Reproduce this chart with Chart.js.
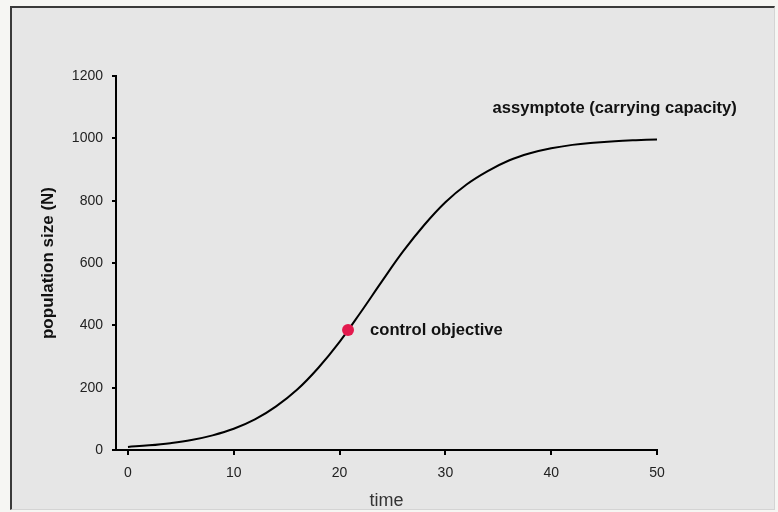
<!DOCTYPE html>
<html>
<head>
<meta charset="utf-8">
<script src="https://cdn.jsdelivr.net/npm/chart.js@4.4.1/dist/chart.umd.min.js"></script>
<style>
  html, body { margin: 0; padding: 0; background: #f6f6f3; }
  #wrap { position: relative; width: 778px; height: 512px; overflow: hidden; }
  #frame {
    position: absolute; left: 10px; top: 6px; width: 762px; height: 501px;
    background: #e6e6e6;
    border-left: 2px solid #3a3a3a; border-top: 2px solid #3a3a3a;
    border-right: 1px solid #d4d4d4; border-bottom: 1px solid #d4d4d4;
  }
  #growth { position: absolute; left: 0; top: 0; }
</style>
</head>
<body>
<div id="wrap">
  <div id="frame"></div>
  <canvas id="growth" width="778" height="512"></canvas>
</div>
<script>
// logistic growth, sampled every 2 time units
const times = [0, 2, 4, 6, 8, 10, 12, 14, 16, 18, 20, 22, 24, 26, 28, 30, 32, 34, 36, 38, 40, 42, 44, 46, 48, 50];
const population = [10, 15, 22, 32, 47, 68, 98, 140, 194, 264, 347, 442, 541, 637, 722, 795, 852, 895, 929, 952, 968, 979, 986, 991, 994, 996];

const objectiveTime = 20.8;
const objectivePop = 385;

const xTicks = [0, 10, 20, 30, 40, 50];
const yTicks = [0, 200, 400, 600, 800, 1000, 1200];

const asymptoteLabel = 'assymptote (carrying capacity)';
const objectiveLabel = 'control objective';

const curve = times.map((t, i) => ({ x: t, y: population[i] }));

const FONT = '"Liberation Sans", Arial, sans-serif';

// free text next to the curve
const notes = {
  id: 'notes',
  afterDatasetsDraw(chart) {
    const { ctx, scales: { x, y } } = chart;
    ctx.save();
    ctx.fillStyle = '#111';
    ctx.font = 'bold 16.6px ' + FONT;
    ctx.textAlign = 'left';
    ctx.textBaseline = 'alphabetic';
    ctx.fillText(asymptoteLabel, x.getPixelForValue(34.45), y.getPixelForValue(1080));
    ctx.fillText(objectiveLabel, x.getPixelForValue(objectiveTime) + 22, y.getPixelForValue(objectivePop) + 5);
    ctx.restore();
  }
};

new Chart(document.getElementById('growth'), {
  type: 'scatter',
  data: {
    datasets: [
      {
        data: curve,
        showLine: true,
        borderColor: '#000',
        borderWidth: 2,
        pointRadius: 0,
        tension: 0.4,
        order: 2
      },
      {
        data: [{ x: objectiveTime, y: objectivePop }],
        pointRadius: 6,
        pointBackgroundColor: '#e3194d',
        pointBorderWidth: 0,
        order: 1
      }
    ]
  },
  options: {
    responsive: false,
    animation: false,
    layout: { padding: { left: 0, right: 121, top: 76, bottom: 0 } },
    plugins: { legend: { display: false }, tooltip: { enabled: false } },
    scales: {
      x: {
        type: 'linear',
        min: -1.13,
        max: 50,
        afterBuildTicks: s => { s.ticks = xTicks.map(v => ({ value: v })); },
        afterFit: s => { s.height = 62; },
        grid: { drawOnChartArea: false, color: '#000', lineWidth: 2, tickLength: 5 },
        border: { color: '#000', width: 2 },
        ticks: { color: '#222', padding: 10, font: { family: FONT, size: 14 }, callback: v => String(v) },
        title: {
          display: true, text: 'time', color: '#333',
          padding: { top: 0, bottom: 0 },
          font: { family: FONT, size: 18 }
        }
      },
      y: {
        min: 0,
        max: 1200,
        afterBuildTicks: s => { s.ticks = yTicks.map(v => ({ value: v })); },
        afterFit: s => { s.width = 116; },
        grid: { drawOnChartArea: false, color: '#000', lineWidth: 2, tickLength: 4 },
        border: { color: '#000', width: 2 },
        ticks: { color: '#222', padding: 9, font: { family: FONT, size: 14 }, callback: v => String(v) },
        title: {
          display: true, text: 'population size (N)', color: '#111',
          padding: { top: 38, bottom: 0 },
          font: { family: FONT, size: 17, weight: 'bold' }
        }
      }
    }
  },
  plugins: [notes]
});
</script>
</body>
</html>
